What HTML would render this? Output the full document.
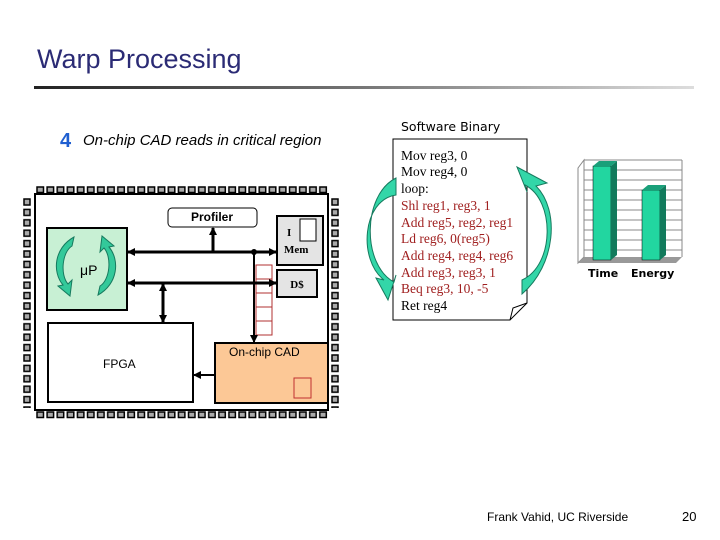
<!DOCTYPE html>
<html><head><meta charset="utf-8"><style>
body{margin:0;background:#fff;}
svg{display:block;}
</style></head><body>
<svg width="720" height="540" viewBox="0 0 720 540" xmlns="http://www.w3.org/2000/svg">
<defs>
<linearGradient id="ul" x1="0" x2="1"><stop offset="0" stop-color="#222"/><stop offset="0.5" stop-color="#777"/><stop offset="1" stop-color="#ddd"/></linearGradient>
<pattern id="pt" x="36" y="186" width="10.1" height="8" patternUnits="userSpaceOnUse"><rect x="1" y="1" width="6.5" height="5.5" fill="#aaa" stroke="#000" stroke-width="1.5"/></pattern>
<pattern id="pb" x="36" y="411" width="10.1" height="8" patternUnits="userSpaceOnUse"><rect x="1" y="1" width="6.5" height="5.5" fill="#aaa" stroke="#000" stroke-width="1.5"/></pattern>
<pattern id="pl" x="23" y="198" width="8" height="10.4" patternUnits="userSpaceOnUse"><rect x="1" y="1" width="6" height="6" fill="#aaa" stroke="#000" stroke-width="1.5"/></pattern>
<pattern id="pr" x="331" y="198" width="8" height="10.4" patternUnits="userSpaceOnUse"><rect x="1" y="1" width="6" height="6" fill="#aaa" stroke="#000" stroke-width="1.5"/></pattern>
<marker id="ar" markerUnits="userSpaceOnUse" markerWidth="8" markerHeight="8" refX="7" refY="4" orient="auto"><path d="M0,0 L8,4 L0,8 z" fill="#000"/></marker>
<marker id="as" markerUnits="userSpaceOnUse" markerWidth="8" markerHeight="8" refX="1" refY="4" orient="auto"><path d="M8,0 L0,4 L8,8 z" fill="#000"/></marker>
</defs>
<text x="37" y="68" font-family="Liberation Sans,sans-serif" font-size="27" fill="#2b2b75">Warp Processing</text>
<rect x="34" y="86" width="660" height="3" fill="url(#ul)"/>
<text x="60" y="147" font-family="Liberation Sans,sans-serif" font-size="20" font-weight="bold" fill="#1f5fd0">4</text>
<text x="83" y="145" font-family="Liberation Sans,sans-serif" font-size="15" font-style="italic">On-chip CAD reads in critical region</text>
<!-- chip pins -->
<rect x="36" y="186" width="292" height="8" fill="url(#pt)"/>
<rect x="36" y="411" width="292" height="8" fill="url(#pb)"/>
<rect x="23" y="198" width="8" height="210" fill="url(#pl)"/>
<rect x="331" y="198" width="8" height="210" fill="url(#pr)"/>
<rect x="35" y="194" width="293" height="216" fill="#fff" stroke="#000" stroke-width="2"/>
<!-- boxes -->
<rect x="47" y="228" width="80" height="82" fill="#c8f0d4" stroke="#000" stroke-width="2"/>
<path d="M74,237 L72,246 C62,252 60,275 68,284 L72,280 L70,296 L58,286 L63,285 C52,272 54,248 74,237 Z" fill="#33c99a" stroke="#167a5e"/>
<path d="M98,295 L100,286 C110,280 112,257 104,248 L100,252 L102,236 L114,246 L109,247 C120,260 118,284 98,295 Z" fill="#33c99a" stroke="#167a5e"/>
<text x="80" y="275" font-family="Liberation Sans,sans-serif" font-size="14">μP</text>
<rect x="168" y="208" width="89" height="19" rx="4" fill="#fff" stroke="#000" stroke-width="1"/>
<text x="212" y="221" text-anchor="middle" font-family="Liberation Sans,sans-serif" font-size="12" font-weight="bold">Profiler</text>
<rect x="277" y="216" width="46" height="49" fill="#e4e4e4" stroke="#000" stroke-width="2"/>
<rect x="300" y="219" width="16" height="22" fill="#fff" stroke="#000" stroke-width="1"/>
<text x="287" y="236" font-family="Liberation Serif,serif" font-size="11" font-weight="bold">I</text>
<text x="284" y="253" font-family="Liberation Serif,serif" font-size="11" font-weight="bold">Mem</text>
<rect x="277" y="270" width="40" height="27" fill="#e4e4e4" stroke="#000" stroke-width="2"/>
<text x="297" y="288" text-anchor="middle" font-family="Liberation Serif,serif" font-size="11" font-weight="bold">D$</text>
<rect x="48" y="323" width="145" height="79" fill="#fff" stroke="#000" stroke-width="2"/>
<text x="103" y="368" font-family="Liberation Sans,sans-serif" font-size="12">FPGA</text>
<rect x="215" y="343" width="113" height="60" fill="#fcc896" stroke="#000" stroke-width="2"/>
<text x="229" y="356" font-family="Liberation Sans,sans-serif" font-size="12">On-chip CAD</text>
<rect x="294" y="378" width="17" height="20" fill="none" stroke="#c03030" stroke-width="1"/>
<!-- cache stack -->
<g fill="#fff" stroke="#b03030" stroke-width="1">
<rect x="256" y="265" width="16" height="14"/><rect x="256" y="279" width="16" height="14"/><rect x="256" y="293" width="16" height="14"/><rect x="256" y="307" width="16" height="14"/><rect x="256" y="321" width="16" height="14"/>
</g>
<!-- buses -->
<g stroke="#000" stroke-width="3" fill="none">
<line x1="128" y1="252" x2="276" y2="252" marker-end="url(#ar)" marker-start="url(#as)"/>
<line x1="128" y1="283" x2="276" y2="283" marker-end="url(#ar)" marker-start="url(#as)"/>
<line x1="213" y1="252" x2="213" y2="228" marker-end="url(#ar)"/>
<line x1="163" y1="284" x2="163" y2="322" marker-end="url(#ar)" marker-start="url(#as)"/>
<line x1="254" y1="252" x2="254" y2="342" stroke-width="2" marker-end="url(#ar)"/>
<line x1="215" y1="375" x2="194" y2="375" stroke-width="2" marker-end="url(#ar)"/>
</g>
<circle cx="254" cy="252" r="3" fill="#000"/>
<!-- software binary -->
<text x="401" y="131" font-family="DejaVu Sans,sans-serif" font-size="12.5">Software Binary</text>
<path d="M393,139 L527,139 L527,303 L510,320 L393,320 Z" fill="#fff" stroke="#000" stroke-width="1"/>
<path d="M510,320 L513,308 L527,303" fill="none" stroke="#000"/>
<g font-family="Liberation Serif,serif" font-size="13.5">
<text x="401" y="160">Mov reg3, 0</text>
<text x="401" y="176">Mov reg4, 0</text>
<text x="401" y="193">loop:</text>
<g fill="#a02020">
<text x="401" y="210">Shl reg1, reg3, 1</text>
<text x="401" y="227">Add reg5, reg2, reg1</text>
<text x="401" y="243">Ld reg6, 0(reg5)</text>
<text x="401" y="260">Add reg4, reg4, reg6</text>
<text x="401" y="277">Add reg3, reg3, 1</text>
<text x="401" y="293">Beq reg3, 10, -5</text>
</g>
<text x="401" y="310">Ret reg4</text>
</g>
<!-- big arrows -->
<path d="M396,178 C362,195 362,265 394,282 L396,275 L388,300 L376,278 L384,280 C358,260 362,200 396,195 Z" fill="#33d6a8" stroke="#167a5e"/>
<path d="M522,280 C555,265 555,200 525,185 L527,192 L517,167 L547,183 L536,186 C560,210 556,265 522,294 Z" fill="#33d6a8" stroke="#167a5e"/>
<!-- chart -->
<g stroke="#888" stroke-width="1">
<line x1="584" y1="160" x2="682" y2="160"/>
<line x1="584" y1="170" x2="682" y2="170"/><line x1="584" y1="180" x2="682" y2="180"/><line x1="584" y1="190" x2="682" y2="190"/><line x1="584" y1="200" x2="682" y2="200"/><line x1="584" y1="210" x2="682" y2="210"/><line x1="584" y1="220" x2="682" y2="220"/><line x1="584" y1="230" x2="682" y2="230"/><line x1="584" y1="240" x2="682" y2="240"/><line x1="584" y1="250" x2="682" y2="250"/>
<line x1="682" y1="160" x2="682" y2="257"/>
<path d="M578,168 L584,160 L584,257 L578,263 Z" fill="#fff"/>
</g>
<path d="M578,263 L584,257 L682,257 L676,263 Z" fill="#999"/>
<rect x="593" y="166" width="18" height="94" fill="#22d6a0" stroke="#000" stroke-width="0.5"/>
<path d="M611,166 L617,161 L617,255 L611,260 Z" fill="#127a5c"/>
<path d="M593,166 L599,161 L617,161 L611,166 Z" fill="#1aa07a"/>
<rect x="642" y="190" width="18" height="70" fill="#22d6a0" stroke="#000" stroke-width="0.5"/>
<path d="M660,190 L666,185 L666,255 L660,260 Z" fill="#127a5c"/>
<path d="M642,190 L648,185 L666,185 L660,190 Z" fill="#1aa07a"/>
<text x="588" y="277" font-family="DejaVu Sans,sans-serif" font-size="11" font-weight="bold">Time</text>
<text x="631" y="277" font-family="DejaVu Sans,sans-serif" font-size="11" font-weight="bold">Energy</text>
<text x="487" y="521" font-family="Liberation Sans,sans-serif" font-size="12">Frank Vahid, UC Riverside</text>
<text x="682" y="521" font-family="Liberation Sans,sans-serif" font-size="13">20</text>
</svg>
</body></html>
